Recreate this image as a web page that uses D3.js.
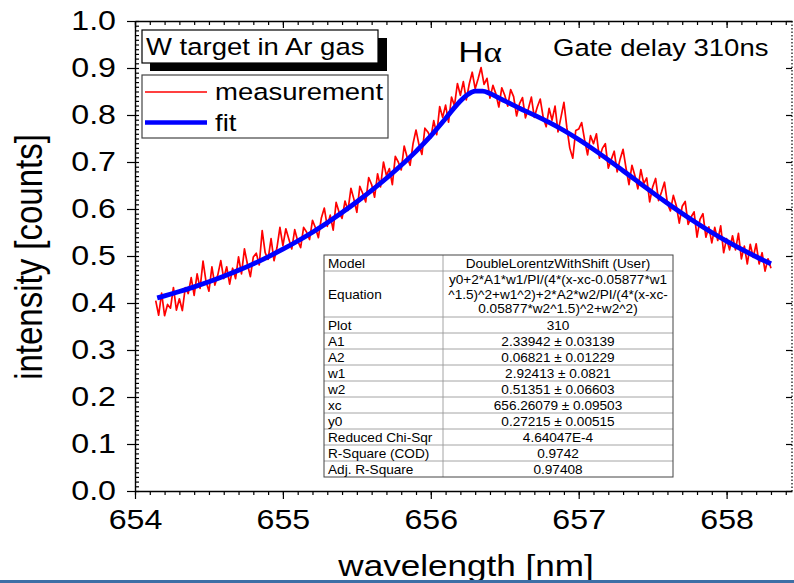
<!DOCTYPE html>
<html>
<head>
<meta charset="utf-8">
<script src="https://cdn.jsdelivr.net/npm/d3@7"></script>
<style>
  html, body { margin: 0; padding: 0; background: #fff; }
  svg { display: block; font-family: "Liberation Sans", Arial, sans-serif; }
</style>
</head>
<body>
<div id="chart"></div>
<script>
// Measured spectrum, sampled every 0.02 nm from 654.14 nm
const measStart = 654.14
const measStep = 0.02
const measIntensity = [
  0.405, 0.374, 0.421, 0.373,
  0.397, 0.389, 0.433, 0.385, 0.409,
  0.384, 0.433, 0.420, 0.454, 0.416,
  0.462, 0.431, 0.489, 0.446, 0.425,
  0.477, 0.438, 0.460, 0.490, 0.452,
  0.477, 0.440, 0.474, 0.452, 0.498,
  0.462, 0.515, 0.483, 0.456, 0.498,
  0.506, 0.481, 0.554, 0.507, 0.493,
  0.537, 0.490, 0.518, 0.561, 0.522,
  0.558, 0.536, 0.515, 0.556, 0.532,
  0.518, 0.561, 0.551, 0.535, 0.576,
  0.560, 0.539, 0.581, 0.602, 0.563,
  0.587, 0.555, 0.614, 0.593, 0.580,
  0.617, 0.597, 0.644, 0.621, 0.593,
  0.648, 0.633, 0.615, 0.667, 0.652,
  0.625, 0.675, 0.647, 0.700, 0.671,
  0.686, 0.652, 0.712, 0.700, 0.683,
  0.734, 0.710, 0.693, 0.739, 0.768,
  0.737, 0.716, 0.772, 0.764, 0.751,
  0.788, 0.758, 0.818, 0.795, 0.821,
  0.785, 0.838, 0.820, 0.867, 0.842,
  0.871, 0.832, 0.866, 0.891, 0.856,
  0.877, 0.901, 0.865, 0.878, 0.836,
  0.863, 0.845, 0.817, 0.858, 0.842,
  0.819, 0.854, 0.839, 0.798, 0.824,
  0.837, 0.794, 0.814, 0.838, 0.795,
  0.817, 0.834, 0.795, 0.775, 0.814,
  0.789, 0.819, 0.764, 0.795, 0.827,
  0.773, 0.729, 0.708, 0.767, 0.770,
  0.784, 0.747, 0.715, 0.756, 0.739,
  0.760, 0.708, 0.729, 0.739, 0.687,
  0.705, 0.723, 0.679, 0.706, 0.727,
  0.687, 0.652, 0.693, 0.671, 0.643,
  0.684, 0.654, 0.666, 0.615, 0.647,
  0.665, 0.618, 0.636, 0.657, 0.612,
  0.596, 0.629, 0.607, 0.570, 0.606,
  0.616, 0.567, 0.583, 0.594, 0.540,
  0.578, 0.590, 0.540, 0.562, 0.528,
  0.561, 0.533, 0.564, 0.507, 0.537,
  0.513, 0.543, 0.513, 0.548, 0.494,
  0.521, 0.483, 0.525, 0.497, 0.526,
  0.483, 0.507, 0.468, 0.494, 0.474
]

// Fitted curve
const fitWavelength = [
  654.15, 654.2, 654.3, 654.4, 654.5, 654.6, 654.7, 654.8, 654.9,
  655.0, 655.1, 655.2, 655.3, 655.4, 655.5, 655.6, 655.7, 655.8, 655.9,
  656.0, 656.1, 656.15, 656.2, 656.25, 656.3, 656.35, 656.4, 656.45, 656.5, 656.55,
  656.6, 656.7, 656.8, 656.9, 657.0, 657.1, 657.2, 657.3, 657.4, 657.5,
  657.6, 657.7, 657.8, 657.9, 658.0, 658.1, 658.2, 658.3
]
const fitIntensity = [
  0.4109, 0.4151, 0.4243, 0.4343, 0.4451, 0.4568, 0.4695, 0.4833, 0.4983,
  0.5144, 0.5319, 0.5507, 0.5709, 0.5924, 0.6154, 0.6397, 0.6655, 0.6930, 0.7227,
  0.7556, 0.7927, 0.8120, 0.8298, 0.8435, 0.8506, 0.8508, 0.8457, 0.8382, 0.8300, 0.8220,
  0.8144, 0.7997, 0.7842, 0.7670, 0.7478, 0.7269, 0.7046, 0.6815, 0.6581, 0.6349,
  0.6123, 0.5905, 0.5697, 0.5500, 0.5316, 0.5144, 0.4984, 0.4835
]

const xTicks = [654, 655, 656, 657, 658]
const yTicks = [0, 0.1, 0.2, 0.3, 0.4, 0.5, 0.6, 0.7, 0.8, 0.9, 1.0]

const tableLabels = ['Model', 'Equation', 'Plot', 'A1', 'A2', 'w1', 'w2', 'xc', 'y0',
  'Reduced Chi-Sqr', 'R-Square (COD)', 'Adj. R-Square']
const tableValues = [
  ['DoubleLorentzWithShift (User)'],
  ['y0+2*A1*w1/PI/(4*(x-xc-0.05877*w1', '^1.5)^2+w1^2)+2*A2*w2/PI/(4*(x-xc-', '0.05877*w2^1.5)^2+w2^2)'],
  ['310'],
  ['2.33942 \u00b1 0.03139'],
  ['0.06821 \u00b1 0.01229'],
  ['2.92413 \u00b1 0.0821'],
  ['0.51351 \u00b1 0.06603'],
  ['656.26079 \u00b1 0.09503'],
  ['0.27215 \u00b1 0.00515'],
  ['4.64047E-4'],
  ['0.9742'],
  ['0.97408']
]

const W = 794
const H = 583
const SX = 1.17 // the source picture is stretched sideways
const plotLeft = 135
const plotRight = 792
const plotTop = 21
const plotBottom = 491
const xMax = 654 + (plotRight - plotLeft) / 147.9

const svg = d3.select('#chart').append('svg')
  .attr('width', W)
  .attr('height', H)

svg.append('rect').attr('width', W).attr('height', H).attr('fill', '#fff')

const x = d3.scaleLinear().domain([654, xMax]).range([plotLeft, plotRight])
const y = d3.scaleLinear().domain([0, 1]).range([plotBottom, plotTop])

const xMinor = d3.range(6540, 6585).map(v => v / 10).filter(v => v <= xMax)
const yMinor = d3.range(0, 101).map(v => v / 100)

function styleAxis(g) {
  g.selectAll('line').attr('stroke', '#000').attr('stroke-width', 1.2)
  g.selectAll('path').attr('stroke', '#000').attr('stroke-width', 1.4)
  g.selectAll('text').attr('fill', '#000').attr('font-family', '"Liberation Sans", Arial, sans-serif')
}

// Bottom axis
const gb = svg.append('g').attr('transform', `translate(0,${plotBottom})`)
gb.append('g').call(d3.axisBottom(x).tickValues(xMinor).tickSize(4).tickSizeOuter(0).tickFormat(''))
gb.append('g').call(d3.axisBottom(x).tickValues(xTicks).tickSize(8).tickPadding(10).tickFormat(d3.format('d')))
  .call(g => g.select('.domain').remove())
  .call(g => g.selectAll('text').attr('font-size', 27.5).attr('transform', `scale(${SX},1)`))
styleAxis(gb)

// Top axis
const gt = svg.append('g').attr('transform', `translate(0,${plotTop})`)
gt.append('g').call(d3.axisTop(x).tickValues(xMinor).tickSize(-4).tickSizeOuter(0).tickFormat(''))
gt.append('g').call(d3.axisTop(x).tickValues(xTicks).tickSize(-7).tickFormat(''))
  .call(g => g.select('.domain').remove())
styleAxis(gt)

// Left axis
const gl = svg.append('g').attr('transform', `translate(${plotLeft},0)`)
gl.append('g').call(d3.axisLeft(y).tickValues(yMinor).tickSize(-4).tickSizeOuter(0).tickFormat(''))
gl.append('g').call(d3.axisLeft(y).tickValues(yTicks).tickSize(8).tickPadding(11).tickFormat(d3.format('.1f')))
  .call(g => g.select('.domain').remove())
  .call(g => g.selectAll('text').attr('font-size', 27.5).attr('x', -19 / SX).attr('transform', `scale(${SX},1)`))
styleAxis(gl)

// Right axis (dotted edge)
const gr = svg.append('g').attr('transform', `translate(${plotRight},0)`)
gr.append('g').call(d3.axisRight(y).tickValues(yTicks).tickSize(-6).tickFormat(''))
  .call(g => g.select('.domain').remove())
styleAxis(gr)
svg.append('line')
  .attr('x1', plotRight).attr('x2', plotRight).attr('y1', plotTop).attr('y2', plotBottom)
  .attr('stroke', '#000').attr('stroke-width', 1.2).attr('stroke-dasharray', '1.5,2')

// Curves
svg.append('clipPath').attr('id', 'plot-clip')
  .append('rect').attr('x', plotLeft).attr('y', plotTop)
  .attr('width', plotRight - plotLeft).attr('height', plotBottom - plotTop)

const plot = svg.append('g').attr('clip-path', 'url(#plot-clip)')

const measLine = d3.line()
  .x((d, i) => x(measStart + i * measStep))
  .y(d => y(d))

plot.append('path')
  .datum(measIntensity)
  .attr('d', measLine)
  .attr('fill', 'none')
  .attr('stroke', '#ff0000')
  .attr('stroke-width', 1.7)
  .attr('stroke-linejoin', 'round')

const fitLine = d3.line()
  .x((d, i) => x(fitWavelength[i]))
  .y(d => y(d))
  .curve(d3.curveMonotoneX)

plot.append('path')
  .datum(fitIntensity)
  .attr('d', fitLine)
  .attr('fill', 'none')
  .attr('stroke', '#0000ff')
  .attr('stroke-width', 4.8)
  .attr('stroke-linejoin', 'round')

// Text helper: stretched sideways like the source picture
function label(parent, tx, ty, txt, size, anchor = 'start', sx = SX) {
  return parent.append('text')
    .attr('transform', `translate(${tx},${ty}) scale(${sx},1)`)
    .attr('font-size', size)
    .attr('text-anchor', anchor)
    .attr('fill', '#000')
    .text(txt)
}

// Axis titles
label(svg, 466, 576, 'wavelength [nm]', 30, 'middle')
svg.append('text')
  .attr('transform', `translate(42,257) scale(${SX},1) rotate(-90)`)
  .attr('font-size', 33)
  .attr('text-anchor', 'middle')
  .attr('fill', '#000')
  .text('intensity [counts]')

// Title box with shadow
svg.append('rect').attr('x', 150).attr('y', 38).attr('width', 237).attr('height', 33).attr('fill', '#000')
svg.append('rect').attr('x', 142).attr('y', 30).attr('width', 236).attr('height', 33)
  .attr('fill', '#fff').attr('stroke', '#000').attr('stroke-width', 1.2)
label(svg, 146, 55, 'W target in Ar gas', 23.5)

// Legend
svg.append('rect').attr('x', 142).attr('y', 75).attr('width', 246).attr('height', 63)
  .attr('fill', '#fff').attr('stroke', '#444').attr('stroke-width', 1.2)
svg.append('line').attr('x1', 145).attr('x2', 207).attr('y1', 92).attr('y2', 92)
  .attr('stroke', '#ff0000').attr('stroke-width', 1.5)
label(svg, 215, 100, 'measurement', 23.5)
svg.append('line').attr('x1', 145).attr('x2', 207).attr('y1', 122.5).attr('y2', 122.5)
  .attr('stroke', '#0000ff').attr('stroke-width', 4.5)
label(svg, 215, 131, 'fit', 23.5)

// Annotations
const ha = label(svg, 480, 62, '', 30, 'middle')
ha.append('tspan').text('H')
ha.append('tspan').attr('font-family', '"Liberation Serif", "DejaVu Serif", serif').text('\u03b1')
label(svg, 553, 56, 'Gate delay 310ns', 23.5)

// Fit result table
const tX0 = 324
const tX1 = 673
const tDiv = 443
const rowH = 16
const eqH = 46
const tFont = 12.6
const rowTops = []
let yy = 255
tableLabels.forEach((lab, i) => {
  rowTops.push(yy)
  yy += i === 1 ? eqH : rowH
})
const tBottom = yy

const tg = svg.append('g')
tg.append('rect').attr('x', tX0).attr('y', 255).attr('width', tX1 - tX0).attr('height', tBottom - 255)
  .attr('fill', '#fff')
tg.selectAll('line.row')
  .data(rowTops.slice(1))
  .join('line')
  .attr('class', 'row')
  .attr('x1', tX0).attr('x2', tX1)
  .attr('y1', d => d).attr('y2', d => d)
  .attr('stroke', '#9a9a9a').attr('stroke-width', 0.9)
tg.append('line').attr('x1', tDiv).attr('x2', tDiv).attr('y1', 255).attr('y2', tBottom)
  .attr('stroke', '#9a9a9a').attr('stroke-width', 0.9)
tg.append('rect').attr('x', tX0).attr('y', 255).attr('width', tX1 - tX0).attr('height', tBottom - 255)
  .attr('fill', 'none').attr('stroke', '#444').attr('stroke-width', 1)

tableLabels.forEach((lab, i) => {
  const h = i === 1 ? eqH : rowH
  const t = rowTops[i]
  label(tg, 328, t + h / 2 + 4.5, lab, tFont, 'start', 1.08)
  const vals = tableValues[i]
  const lh = 14.6
  vals.forEach((v, k) => {
    const cy = t + h / 2 + (k - (vals.length - 1) / 2) * lh + 4.5
    label(tg, (tDiv + tX1) / 2, cy, v, tFont, 'middle', 1.08)
  })
})

// Blue band along the bottom edge
svg.append('rect').attr('x', 0).attr('y', 580).attr('width', W).attr('height', 3).attr('fill', '#3d6fa6')
</script>
</body>
</html>
